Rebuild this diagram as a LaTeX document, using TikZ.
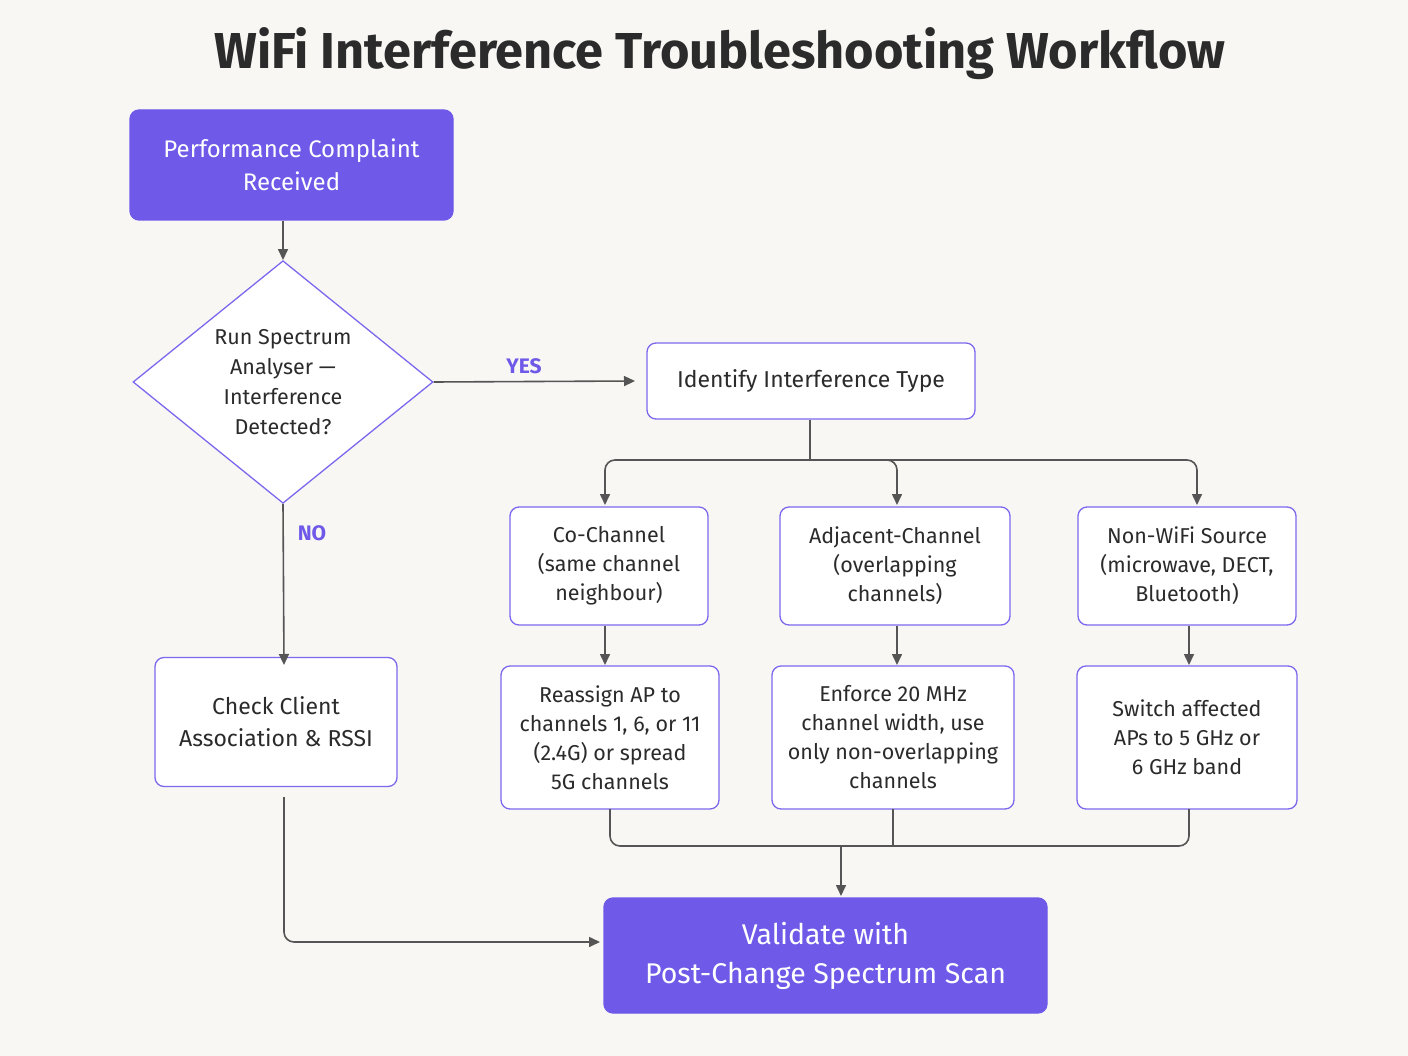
\documentclass[tikz,border=0pt]{standalone}
\usepackage{fontspec}
\setmainfont{Fira Sans}
\usetikzlibrary{shapes.geometric,arrows.meta}
\definecolor{bg}{HTML}{F8F7F4}
\definecolor{pur}{HTML}{6E59E8}
\definecolor{pbd}{HTML}{7C68EE}
\definecolor{ln}{HTML}{555555}
\definecolor{tx}{HTML}{2B2B2B}
\begin{document}
\begin{tikzpicture}[x=1pt,y=-1pt,
 box/.style={draw=pbd,line width=1.3pt,fill=white,rounded corners=9pt,align=center,text=tx,font=\fontsize{21.5}{29}\selectfont,inner sep=0pt},
 fbox/.style={box,fill=pur,draw=pur,text=white,font=\fontsize{24}{33}\selectfont\color{white}},
 arr/.style={draw=ln,line width=1.6pt,-{Triangle[length=11pt,width=10pt]},rounded corners=10pt},
 ln/.style={draw=ln,line width=1.6pt,rounded corners=10pt},
 lab/.style={text=pur,font=\fontsize{21}{25}\selectfont\bfseries}]
\fill[bg] (0,0) rectangle (1408,1056);
\useasboundingbox (0,0) rectangle (1408,1056);
\node[text=tx,font=\fontsize{50.5}{54}\selectfont\bfseries] (title) at (720,54) {WiFi Interference Troubleshooting Workflow};
\node[fbox,minimum width=323pt,minimum height=110pt] (pc) at (291.5,165) {Performance Complaint\\Received};
\node[diamond,draw=pbd,line width=1.3pt,fill=white,minimum width=300pt,minimum height=236pt,inner sep=0pt,align=center,text=tx,font=\fontsize{21.5}{30}\selectfont] (dm) at (283,382) {Run Spectrum\\Analyser —\\Interference\\Detected?};
\node[box,minimum width=328pt,minimum height=76pt,font=\fontsize{23}{29}\selectfont] (id) at (811,381) {Identify Interference Type};
\node[box,minimum width=198pt,minimum height=118pt] (co) at (609,566) {Co-Channel\\(same channel\\neighbour)};
\node[box,minimum width=230pt,minimum height=118pt] (ad) at (895,566) {Adjacent-Channel\\(overlapping\\channels)};
\node[box,minimum width=218pt,minimum height=118pt] (nw) at (1187,566) {Non-WiFi Source\\(microwave, DECT,\\Bluetooth)};
\node[box,minimum width=218pt,minimum height=143pt] (ra) at (610,737.5) {Reassign AP to\\channels 1, 6, or 11\\(2.4G) or spread\\5G channels};
\node[box,minimum width=242pt,minimum height=143pt] (en) at (893,737.5) {Enforce 20 MHz\\channel width, use\\only non-overlapping\\channels};
\node[box,minimum width=220pt,minimum height=143pt] (sw) at (1187,737.5) {Switch affected\\APs to 5 GHz or\\6 GHz band};
\node[box,minimum width=242pt,minimum height=129pt,font=\fontsize{23}{32}\selectfont] (cc) at (276,722) {Check Client\\Association \& RSSI};
\node[fbox,minimum width=443pt,minimum height=115pt,font=\fontsize{28.5}{39}\selectfont\color{white}] (va) at (825.5,955.5) {Validate with\\Post-Change Spectrum Scan};
\draw[arr] (pc.south -| dm.north) -- (dm.north);
\draw[arr] (dm.east) -- (635,381);
\node[lab] (yes) at (524,366) {YES};
\draw[arr] (dm.south) -- (284,665);
\node[lab] (no) at (312,533) {NO};
\coordinate (j) at (810,460);
\draw[ln] (id.south -| j) -- (j);
\draw[arr] (j) -| (605,505);
\draw[arr] (j) -| (897,505);
\draw[arr] (j) -| (1197,505);
\draw[arr] (co.south -| 605,0) -- (605,665);
\draw[arr] (ad.south -| 897,0) -- (897,665);
\draw[arr] (nw.south -| 1189,0) -- (1189,665);
\coordinate (k) at (841,846);
\draw[ln] (610,809) |- (k);
\draw[ln] (1189,809) |- (k);
\draw[ln] (893,809) -- (893,846);
\draw[arr] (k) -- (841,896);
\draw[arr] (284,797) |- (600,942);
\end{tikzpicture}
\end{document}
